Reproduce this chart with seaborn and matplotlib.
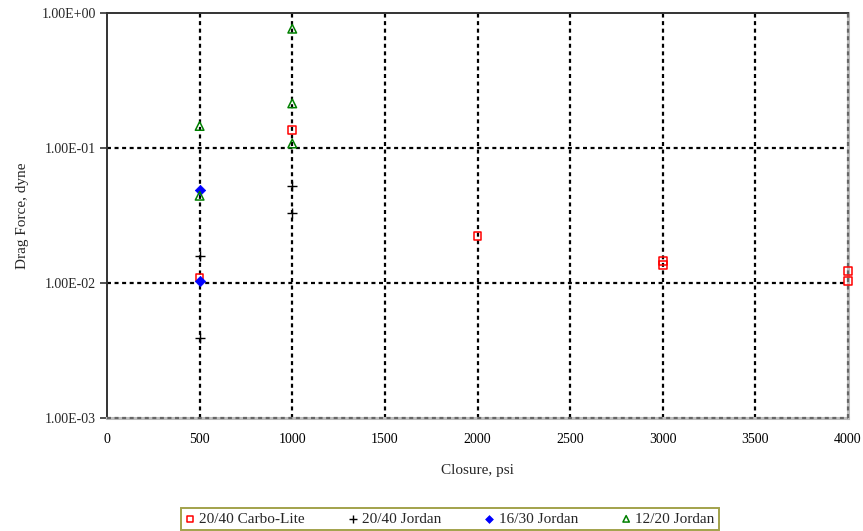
import matplotlib
matplotlib.use("Agg")
import matplotlib.pyplot as plt
from matplotlib.ticker import FuncFormatter, FixedLocator, NullLocator
import numpy as np
import pandas as pd
import seaborn as sns

# Drag force measurements by proppant type (closure in psi, force in dyne)
carbo_closure = [500, 1000, 2000, 3000, 3000, 4000, 4000]
carbo_force = [0.0110, 0.136, 0.0224, 0.0146, 0.0136, 0.0123, 0.0104]

jordan2040_closure = [500, 500, 1000, 1000]
jordan2040_force = [0.0159, 0.00389, 0.0523, 0.0332]

jordan1630_closure = [500, 500]
jordan1630_force = [0.0489, 0.0103]

jordan1220_closure = [500, 500, 1000, 1000, 1000]
jordan1220_force = [0.1456, 0.0443, 0.765, 0.214, 0.108]

x_ticks = [0, 500, 1000, 1500, 2000, 2500, 3000, 3500, 4000]
y_ticks = [1e-3, 1e-2, 1e-1, 1e0]

sns.set_style("white")
plt.rcParams["font.family"] = ["Liberation Serif", "DejaVu Serif"]

fig = plt.figure(figsize=(8.63, 5.31), dpi=100)
ax = fig.add_axes([107 / 863, 1 - 418 / 531, (848 - 107) / 863, (418 - 13) / 531])

series = [
    ("20/40 Carbo-Lite", carbo_closure, carbo_force,
     dict(marker="s", s=30, facecolor="none", edgecolor="#ff0000", linewidth=1.1)),
    ("20/40 Jordan", jordan2040_closure, jordan2040_force,
     dict(marker="+", s=60, color="#000000", linewidth=1.0)),
    ("16/30 Jordan", jordan1630_closure, jordan1630_force,
     dict(marker="D", s=28, color="#0000ff", edgecolor="#0000ff", linewidth=0.5)),
    ("12/20 Jordan", jordan1220_closure, jordan1220_force,
     dict(marker="^", s=38, facecolor="none", edgecolor="#008000", linewidth=1.1)),
]

# interior dotted grid
grid_style = dict(color="black", linewidth=1.6, linestyle=(0, (1.8, 1.6)), zorder=1)
for xv in x_ticks[1:-1]:
    ax.axvline(xv, **grid_style)
for yv in y_ticks[1:-1]:
    ax.axhline(yv, **grid_style)

for name, xs, ys, kw in series:
    df = pd.DataFrame({"Closure": xs, "Force": ys})
    sns.scatterplot(data=df, x="Closure", y="Force", ax=ax, label=name,
                    clip_on=False, zorder=5, **kw)

ax.set_yscale("log")
ax.set_xlim(0, 4000)
ax.set_ylim(1e-3, 1e0)
ax.xaxis.set_major_locator(FixedLocator(x_ticks))
ax.yaxis.set_major_locator(FixedLocator(y_ticks))
ax.yaxis.set_minor_locator(NullLocator())
ax.yaxis.set_major_formatter(FuncFormatter(lambda v, p: f"{v:.2E}"))

for side in ("left", "top"):
    ax.spines[side].set_color("#333333")
    ax.spines[side].set_linewidth(1.4)
for side in ("bottom", "right"):
    ax.spines[side].set_color("#bdbdbd")
    ax.spines[side].set_linewidth(2.2)
edge_style = dict(color="#666666", linewidth=1.6, linestyle=(0, (1.8, 1.6)),
                  zorder=3, clip_on=False)
ax.axhline(1e-3, **edge_style)
ax.axvline(4000, **edge_style)

ax.tick_params(axis="x", length=0, pad=11, labelsize=10, colors="black")
ax.tick_params(axis="y", which="major", left=True, length=5, width=1.2,
               direction="out", color="#333333", pad=3, labelsize=10)

ax.set_xlabel("Closure, psi", fontsize=11, labelpad=13)
ax.set_ylabel("Drag Force, dyne", fontsize=11, labelpad=9)

handles, labels = ax.get_legend_handles_labels()
leg = ax.legend(handles, labels, loc="center", ncol=4,
                bbox_to_anchor=(450 / 863, 1 - 519 / 531),
                bbox_transform=fig.transFigure, fontsize=11, frameon=True,
                fancybox=False, handlelength=0.6, handletextpad=0.3,
                columnspacing=2.85, borderpad=0.25, markerscale=0.75,
                borderaxespad=0)
leg.get_frame().set_edgecolor("#8b8b1e")
leg.get_frame().set_linewidth(1.4)

fig.savefig("out.png", dpi=100, facecolor="white")
